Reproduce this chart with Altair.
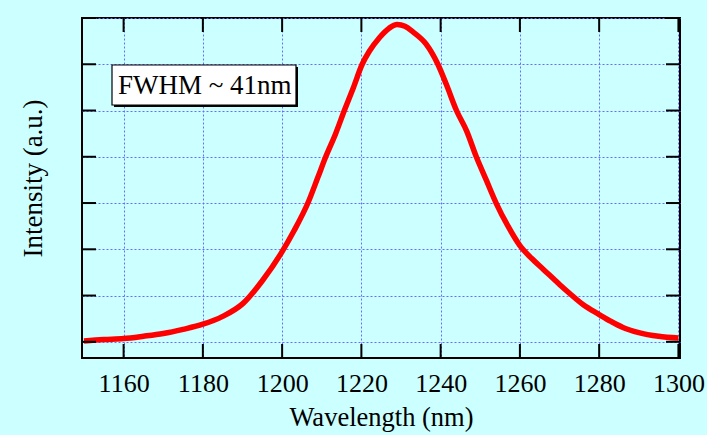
import altair as alt
import pandas as pd

# ---- data ----
wavelength = [1150, 1155, 1160, 1165, 1170, 1175, 1180, 1185, 1190, 1195,
              1200, 1203, 1206.5, 1209, 1211, 1213.5, 1215.7, 1218, 1220.2, 1222,
              1224.6, 1227, 1229, 1231, 1233, 1236.3, 1239.3, 1241.5, 1244, 1246.6,
              1249, 1251.5, 1254, 1257, 1260, 1263, 1266, 1270, 1272.5, 1276,
              1280, 1283, 1286, 1290, 1295, 1300]
intensity = [0.02, 0.05, 0.07, 0.12, 0.18, 0.27, 0.38, 0.55, 0.82, 1.32,
             1.95, 2.4, 3.0, 3.55, 4.0, 4.5, 5.0, 5.5, 6.0, 6.28,
             6.58, 6.78, 6.86, 6.82, 6.7, 6.44, 6.0, 5.55, 5.0, 4.55,
             4.0, 3.5, 3.0, 2.5, 2.08, 1.8, 1.56, 1.24, 1.05, 0.8,
             0.59, 0.44, 0.31, 0.2, 0.12, 0.08]
x_ticks = [1160, 1180, 1200, 1220, 1240, 1260, 1280, 1300]
y_ticks = [0, 1, 2, 3, 4, 5, 6, 7]
annotation = ["FWHM ~ 41nm"]

W, H = 598, 340
FONT = "Liberation Serif"
BG = "#CCFFFF"
GRID = "#6b6bff"

curve = pd.DataFrame({"x": wavelength, "y": intensity})
xt = pd.DataFrame({"x": x_ticks})
yt = pd.DataFrame({"y": y_ticks})
ann = pd.DataFrame({"label": annotation})

xscale = alt.Scale(domain=[1149.5, 1300.4], nice=False, zero=False)
yscale = alt.Scale(domain=[-0.35, 7.0], nice=False, zero=False)

xaxis = alt.Axis(values=x_ticks, format="d", title="Wavelength (nm)", grid=True,
                 gridColor=GRID, gridDash=[2, 2], gridWidth=1,
                 ticks=False, domain=False, labelFont=FONT, labelFontSize=26,
                 labelColor="black", labelPadding=12, titleFont=FONT,
                 titleFontSize=26.5, titleFontWeight="normal", titleColor="black",
                 titlePadding=8, labelFlush=False, labelOverlap=False)
yaxis = alt.Axis(values=y_ticks, title="Intensity (a.u.)", grid=True,
                 gridColor=GRID, gridDash=[2, 2], gridWidth=1,
                 ticks=False, domain=False, labels=False, titleFont=FONT,
                 titleFontSize=27, titleFontWeight="normal", titleColor="black",
                 titleX=-49, titleY=160, titleBaseline="middle", titleAngle=-90)

line = alt.Chart(curve).mark_line(color="#FF0000", strokeWidth=5.5, interpolate="monotone").encode(
    x=alt.X("x:Q", scale=xscale, axis=xaxis),
    y=alt.Y("y:Q", scale=yscale, axis=yaxis),
)

tick_style = dict(color="black", strokeWidth=2)
bottom_ticks = alt.Chart(xt).mark_rule(**tick_style).encode(
    x=alt.X("x:Q", scale=xscale, axis=xaxis), y=alt.value(H), y2=alt.value(H - 14))
top_ticks = alt.Chart(xt).mark_rule(**tick_style).encode(
    x=alt.X("x:Q", scale=xscale, axis=xaxis), y=alt.value(0), y2=alt.value(14))
left_ticks = alt.Chart(yt).mark_rule(**tick_style).encode(
    y=alt.Y("y:Q", scale=yscale, axis=yaxis), x=alt.value(0), x2=alt.value(14))
right_ticks = alt.Chart(yt).mark_rule(**tick_style).encode(
    y=alt.Y("y:Q", scale=yscale, axis=yaxis), x=alt.value(W), x2=alt.value(W - 14))

shadow = alt.Chart(ann).mark_rect(fill="black").encode(
    x=alt.value(32), x2=alt.value(216), y=alt.value(49), y2=alt.value(89))
box = alt.Chart(ann).mark_rect(fill="white", stroke="black", strokeWidth=1.2).encode(
    x=alt.value(30), x2=alt.value(214), y=alt.value(47), y2=alt.value(87))
label = alt.Chart(ann).mark_text(font=FONT, fontSize=27, align="left", baseline="middle",
                                 color="black").encode(
    x=alt.value(36), y=alt.value(68), text="label:N")

chart = alt.layer(line, bottom_ticks, top_ticks, left_ticks, right_ticks, shadow, box, label).properties(
    width=W, height=H, background=BG,
    autosize=alt.AutoSizeParams(type="none"),
    padding={"left": 82, "top": 18, "right": 27, "bottom": 77},
).configure_view(fill=BG, stroke="black", strokeWidth=2)

chart.save("out.html", embed_options={"renderer": "svg", "actions": False})
